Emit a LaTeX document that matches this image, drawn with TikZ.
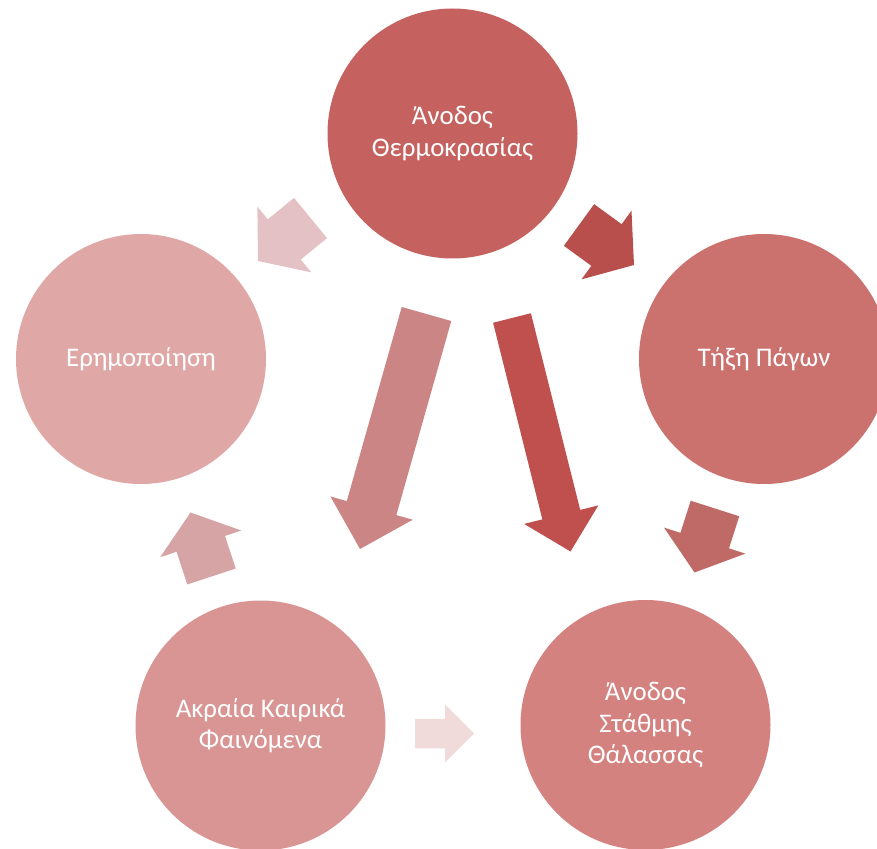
\documentclass[tikz,border=0pt]{standalone}
\usepackage{fontspec}
\setmainfont{Carlito}
\usetikzlibrary{calc}

\definecolor{cTop}{RGB}{197,97,95}
\definecolor{cRight}{RGB}{203,114,110}
\definecolor{cLeft}{RGB}{224,167,167}
\definecolor{cLowL}{RGB}{217,149,148}
\definecolor{cLowR}{RGB}{212,130,128}
\definecolor{aOne}{RGB}{227,193,196}
\definecolor{aTwo}{RGB}{184,79,76}
\definecolor{aThree}{RGB}{192,106,104}
\definecolor{aFour}{RGB}{214,164,165}
\definecolor{aFive}{RGB}{240,218,218}
\definecolor{aSix}{RGB}{203,133,132}
\definecolor{aSeven}{RGB}{191,80,77}

% colour, tail, tip, shaft width, head width, head length
\newcommand{\blkarrow}[6]{%
  \coordinate (neck) at ($(#3)!#6!(#2)$);
  \fill[#1] ($(#2)!#4/2!90:(#3)$) -- ($(neck)!#4/2!90:(#3)$) -- ($(neck)!#5/2!90:(#3)$)
    -- (#3) -- ($(neck)!#5/2!-90:(#3)$) -- ($(neck)!#4/2!-90:(#3)$) -- ($(#2)!#4/2!-90:(#3)$) -- cycle;
}

\begin{document}
\begin{tikzpicture}[
    bubble/.style={circle, minimum size=5cm, inner sep=0pt, text=white, align=center,
      font=\fontsize{15.3}{17.8}\selectfont}
  ]
  \useasboundingbox (0,0) rectangle (17.54,16.96);

  \node[bubble, fill=cTop] (temp) at (9.05,14.29) {Άνοδος\\Θερμοκρασίας};
  \node[bubble, fill=cRight] (ice) at (15.28,9.78) {Τήξη Πάγων};
  \node[bubble, fill=cLeft] (desert) at (2.82,9.78) {Ερημοποίηση};
  \node[bubble, fill=cLowL] (weather) at (5.21,2.45) {Ακραία Καιρικά\\Φαινόμενα};
  \node[bubble, fill=cLowR] (sea) at (12.91,2.46) {Άνοδος\\Στάθμης\\Θάλασσας};

  \coordinate (t1) at (6.21,12.60);  \coordinate (h1) at (5.16,11.74);
  \coordinate (t2) at (11.58,12.46); \coordinate (h2) at (12.68,11.66);
  \coordinate (t3) at (14.30,6.79);  \coordinate (h3) at (13.89,5.51);
  \coordinate (t4) at (4.23,5.43);   \coordinate (h4) at (3.81,6.71);
  \coordinate (t5) at (8.30,2.29);   \coordinate (h5) at (9.48,2.29);
  \coordinate (t6) at (8.53,10.68);  \coordinate (h6) at (7.20,5.98);
  \coordinate (t7) at (10.24,10.60); \coordinate (h7) at (11.41,5.93);

  \blkarrow{aOne}{t1}{h1}{1.04cm}{1.70cm}{0.68cm}
  \blkarrow{aTwo}{t2}{h2}{1.03cm}{1.70cm}{0.68cm}
  \blkarrow{aThree}{t3}{h3}{1.02cm}{1.71cm}{0.67cm}
  \blkarrow{aFour}{t4}{h4}{1.02cm}{1.71cm}{0.66cm}
  \blkarrow{aFive}{t5}{h5}{0.59cm}{1.17cm}{0.58cm}
  \blkarrow{aSix}{t6}{h6}{1.03cm}{1.71cm}{0.85cm}
  \blkarrow{aSeven}{t7}{h7}{0.78cm}{1.53cm}{0.76cm}
\end{tikzpicture}
\end{document}
